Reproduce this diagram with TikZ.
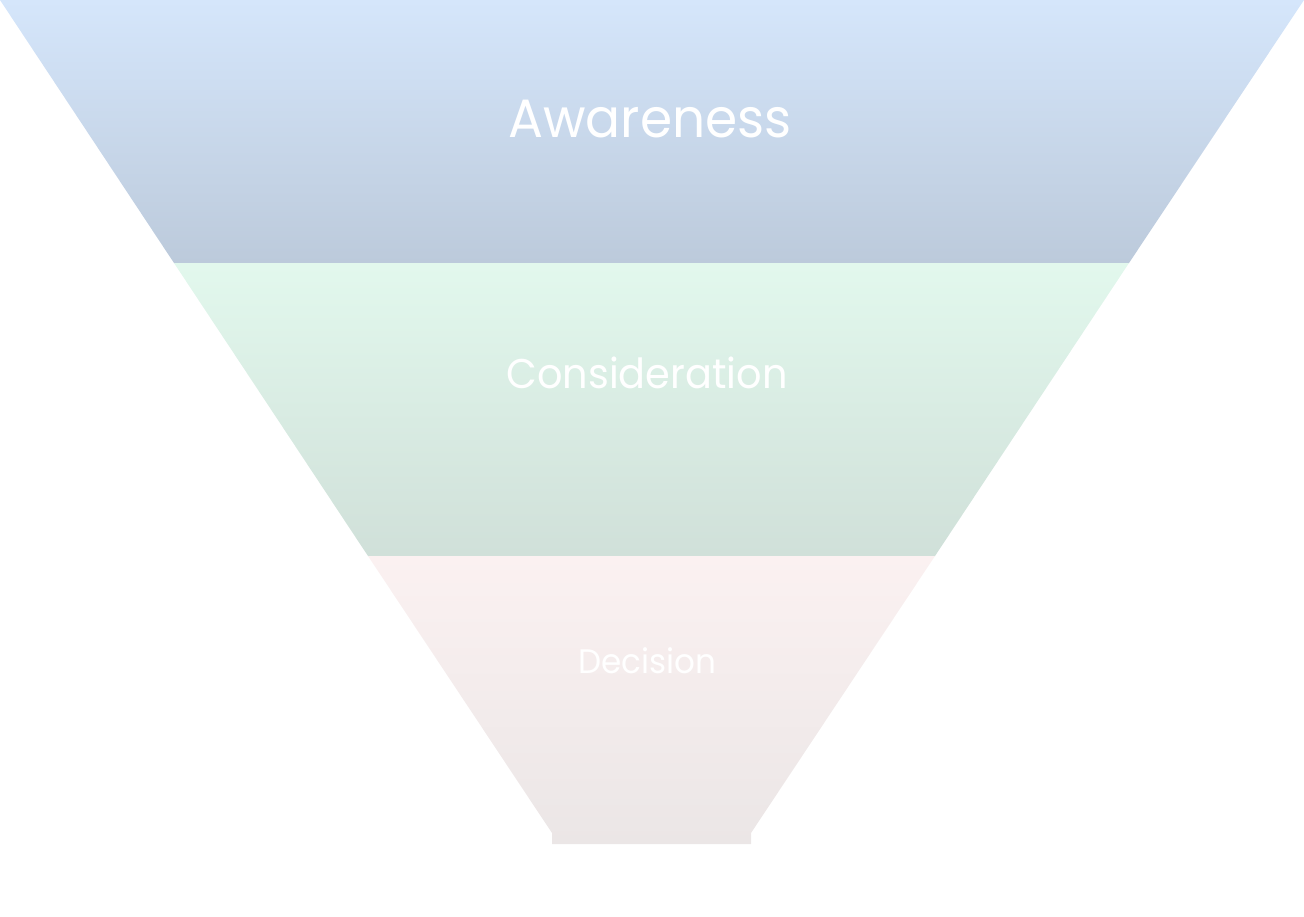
\documentclass[tikz,border=0pt]{standalone}
\usepackage{fontspec}
\setmainfont[FakeStretch=0.96]{Poppins}
\usepackage{xcolor}
\usepackage{tikz}
\usetikzlibrary{calc,positioning}
\definecolor{awaretop}{RGB}{213,230,251}
\definecolor{awarebot}{RGB}{188,202,219}
\definecolor{considtop}{RGB}{226,248,237}
\definecolor{considbot}{RGB}{208,224,217}
\definecolor{decidtop}{RGB}{251,241,241}
\definecolor{decidbot}{RGB}{235,230,230}
\tikzset{
  stage/.style={text=white,anchor=base,inner sep=0pt},
  band/.style={draw=none}
}
\begin{document}
\begin{tikzpicture}[x=1pt,y=-1pt]
\useasboundingbox (0,0) rectangle (1304,916);
% funnel bands
\shade[band,top color=awaretop,bottom color=awarebot] (0,0)--(1304,0)--(1129,263)--(174,263)--cycle;
\shade[band,top color=considtop,bottom color=considbot] (174,263)--(1129,263)--(935,556)--(368,556)--cycle;
\shade[band,top color=decidtop,bottom color=decidbot] (368,556)--(935,556)--(751,833)--(751,844)--(552,844)--(552,833)--cycle;
% labels
\node[stage,font=\fontsize{54}{56}\selectfont] (aware) at (650,137) {Awareness};
\node[stage,font=\fontsize{41.5}{44}\selectfont] (consid) at (647,388) {Consideration};
\node[stage,font=\fontsize{34}{36}\selectfont] (decid) at (647.5,673) {Decision};
\end{tikzpicture}
\end{document}
